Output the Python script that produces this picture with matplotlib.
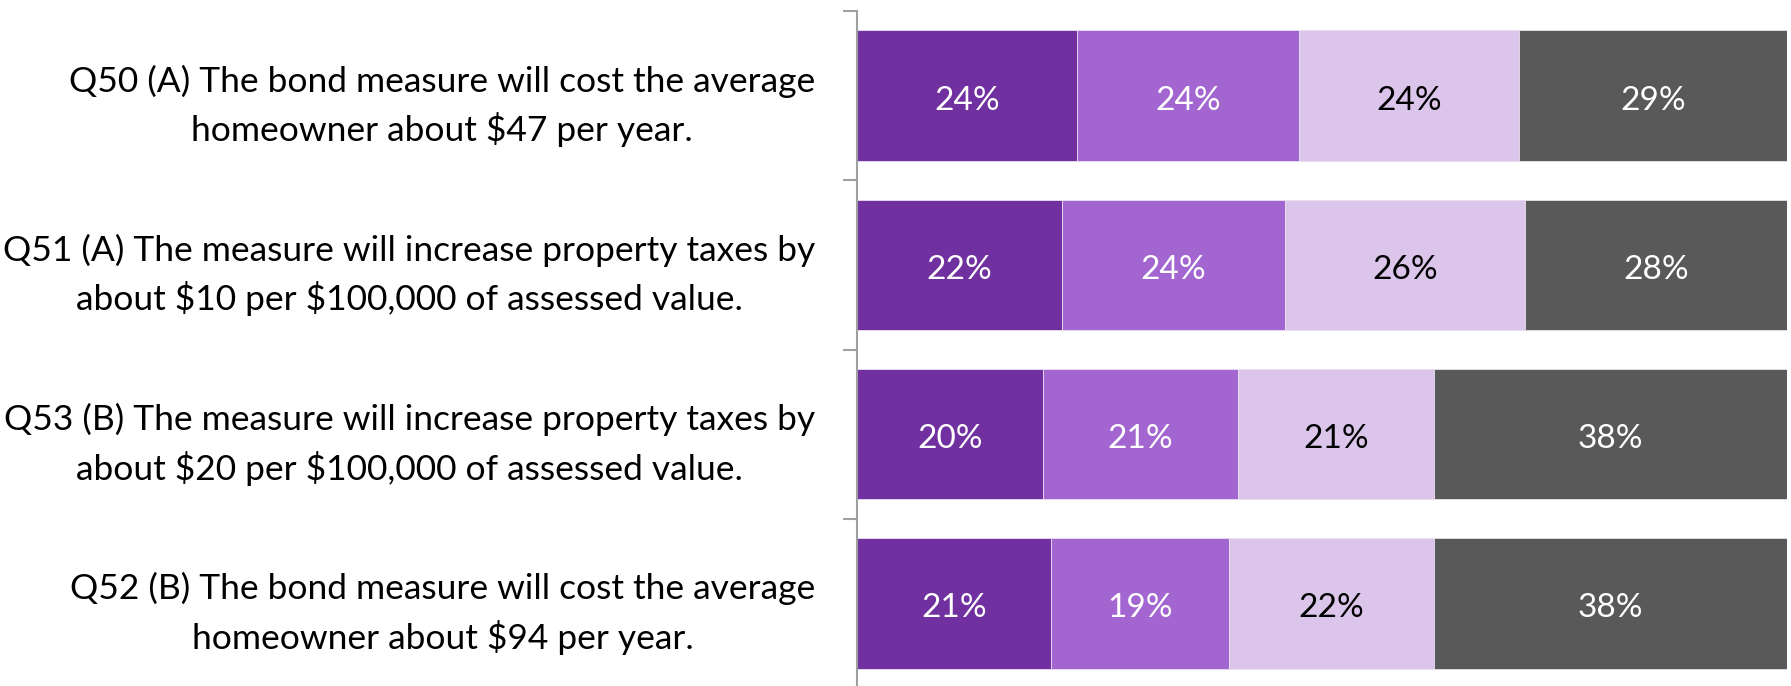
import matplotlib
matplotlib.use("Agg")
import matplotlib.pyplot as plt
import numpy as np

plt.rcParams['font.family'] = ['Lato', 'DejaVu Sans']

questions = [
    "Q50 (A) The bond measure will cost the average\nhomeowner about \\$47 per year.",
    "Q51 (A) The measure will increase property taxes by\nabout \\$10 per \\$100,000 of assessed value.",
    "Q53 (B) The measure will increase property taxes by\nabout \\$20 per \\$100,000 of assessed value.",
    "Q52 (B) The bond measure will cost the average\nhomeowner about \\$94 per year.",
]
seg1 = [23.7, 22.0, 20.0, 20.9]
seg2 = [23.8, 24.0, 21.0, 19.1]
seg3 = [23.7, 25.8, 21.0, 22.0]
seg4 = [28.8, 28.2, 38.0, 38.0]
labels1 = ["24%", "22%", "20%", "21%"]
labels2 = ["24%", "24%", "21%", "19%"]
labels3 = ["24%", "26%", "21%", "22%"]
labels4 = ["29%", "28%", "38%", "38%"]

colors = ["#7030A0", "#A366D1", "#DCC5EB", "#595959"]
text_colors = ["white", "white", "black", "white"]

fig = plt.figure(figsize=(17.91, 6.86), dpi=100)
ax = fig.add_axes([857/1791, -2/686, (1787-857)/1791, (686-11+2)/686])

y = np.arange(len(questions))
left = np.zeros(len(questions))
for vals, labs, c, tc in zip([seg1, seg2, seg3, seg4], [labels1, labels2, labels3, labels4], colors, text_colors):
    vals = np.array(vals)
    ax.barh(y, vals, left=left, height=0.77, color=c, edgecolor="#E8E0EE", linewidth=0.6)
    for yi, l, v, lab in zip(y, left, vals, labs):
        ax.text(l + v / 2, yi + 0.03, lab, ha="center", va="center", color=tc, fontsize=24)
    left = left + vals

ax.set_xlim(0, 100)
ax.set_ylim(len(questions) - 0.5, -0.5)
ax.set_xticks([])
ax.set_yticks(y)
ax.set_yticklabels(questions, fontsize=25.5, linespacing=1.5)
for t in ax.get_yticklabels():
    t.set_multialignment("center")
ax.tick_params(axis="y", which="major", length=0, pad=30)
ax.set_yticks(np.arange(-0.5, len(questions)), minor=True)
ax.tick_params(axis="y", which="minor", length=10, color="#A0A0A0", width=1.5)
for s in ["top", "right", "bottom"]:
    ax.spines[s].set_visible(False)
ax.spines["left"].set_color("#A0A0A0")
ax.spines["left"].set_linewidth(1.5)

fig.savefig("out.png", dpi=100)
